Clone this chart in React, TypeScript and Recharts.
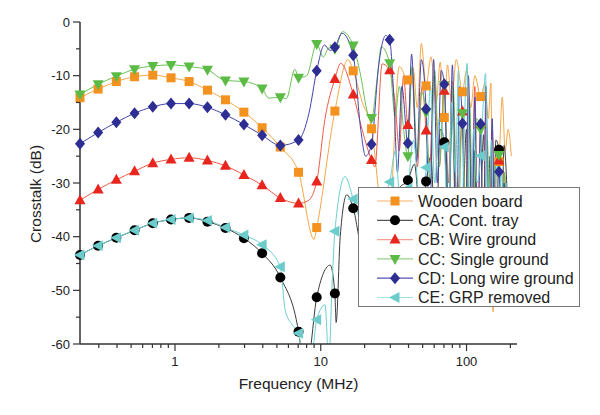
import { ComposedChart, Line, Scatter, XAxis, YAxis } from 'recharts'

type Pt = [number, number]
type MarkKind = 'square' | 'circle' | 'up' | 'down' | 'diamond' | 'left'

// frequencies (MHz) where the symbols sit, same grid for every curve
const markFreq = [
  0.223, 0.297, 0.396, 0.528, 0.704, 0.939, 1.25, 1.67, 2.22, 2.97, 3.96, 5.28, 7.04, 9.38, 12.5,
  16.7, 22.3, 29.7, 39.6, 52.8, 70.4, 93.8, 125, 167,
]

// crosstalk (dB) at the symbol frequencies
const woodenMarks = [
  -14.1, -12.5, -11.1, -10.2, -9.9, -10.4, -11.1, -12.7, -14.5, -16.8, -19.7, -23.3, -28.0, -38.3,
  -16.6, -9.1, -19.9, -38.0, -10.8, -11.9, -17.8, -13.0, -13.9, -26.0,
]
const trayMarks = [
  -43.4, -41.7, -40.2, -38.8, -37.5, -36.8, -36.5, -37.2, -38.4, -40.3, -43.1, -47.6, -57.7, -51.3,
  -50.6, -34.7, -40.0, -36.0, -29.5, -29.7, -22.4, -38.0, -36.0, -23.8,
]
const wireMarks = [
  -33.2, -31.2, -29.4, -27.8, -26.3, -25.6, -25.3, -25.8, -26.8, -28.5, -30.4, -32.8, -33.8, -29.7,
  -10.6, -13.5, -25.7, -9.0, -19.2, -20.2, -12.8, -16.7, -19.0, -25.8,
]
const singleMarks = [
  -13.5, -11.6, -10.1, -8.8, -8.2, -8.0, -8.3, -8.9, -10.9, -11.1, -12.4, -14.0, -10.4, -4.1, -5.0,
  -4.4, -17.9, -7.7, -25.0, -16.8, -11.8, -17.0, -20.0, -24.8,
]
const longWireMarks = [
  -22.7, -20.6, -18.7, -17.0, -15.8, -15.2, -15.2, -15.9, -17.3, -19.1, -21.1, -23.0, -22.0, -9.1,
  -4.7, -6.2, -22.8, -3.3, -22.6, -16.2, -11.6, -18.9, -19.0, -27.9,
]
const grpMarks = [
  -43.4, -41.7, -40.2, -38.8, -37.5, -36.8, -36.5, -37.0, -38.3, -39.7, -41.5, -45.6, -58.0, -55.5,
  -39.0, -33.0, -40.0, -29.8, -31.0, -27.1, -23.3, -35.0, -24.9, -32.0,
]

// extra peaks and dips of each trace between the symbols, [MHz, dB]
const woodenWave: Pt[] = [
  [9.0, -40.5], [15.4, -7.0], [19.3, -15.0], [25.0, -32.0], [27.4, -44.0], [34.6, -8.3],
  [43.0, -8.5], [46.0, -16.0], [49.0, -4.0], [57.0, -6.5], [62.0, -15.0], [66.0, -7.5],
  [74.0, -8.0], [79.0, -15.0], [85.0, -7.0], [100, -9.0], [107, -16.0], [114, -10.0],
  [134, -11.5], [141, -18.0], [147, -11.4], [152, -54.0], [159, -30.0], [176, -14.0],
  [184, -24.0], [193, -20.0], [203, -25.0],
]
const trayWave: Pt[] = [
  [7.5, -63], [8.0, -66], [8.5, -61], [11.6, -45.3], [12.75, -56], [13.6, -40], [15.1, -32.2],
  [19.3, -42], [25.5, -32], [34.5, -31], [44.0, -26.5], [48.0, -36], [57.0, -25], [61.5, -44],
  [66.0, -20], [75.0, -36], [80.0, -17], [86.0, -50], [100, -20], [106, -50], [113, -24],
  [119, -48], [131, -21], [138, -50], [145, -25], [152, -48], [159, -22], [174, -40], [181, -23],
  [190, -32],
]
const wireWave: Pt[] = [
  [8.2, -33.3], [10.7, -18], [13.7, -7.7], [19.2, -20], [23.5, -27], [26.4, -7.8], [32.6, -16],
  [34.6, -24], [37, -10], [42, -9], [46, -27], [49.6, -12], [55.5, -28], [60, -10], [65, -27],
  [75, -30], [80, -11], [86, -35], [98, -40], [103, -14], [109, -33], [114, -12], [119, -38],
  [130, -42], [136, -16], [143, -45], [150, -20], [157, -40], [174, -45], [181, -28], [188, -40],
]
const singleWave: Pt[] = [
  [4.4, -14.2], [5.8, -14.3], [6.65, -8.8], [8.0, -10.0], [10.4, -6.5], [11.4, -4.8], [14.1, -1.8],
  [18.8, -10], [21.0, -17], [24.5, -10], [26.0, -4.6], [32.4, -17.6], [34.6, -12], [37, -20],
  [42.3, -8.3], [46, -25], [49, -13], [56.5, -30], [60.5, -9], [65, -27], [75.5, -35], [81, -12],
  [87, -40], [99, -45], [105, -15], [111, -40], [117, -18], [131, -48], [139, -22], [146, -45],
  [154, -28], [174, -42], [182, -28], [189, -38],
]
const longWireWave: Pt[] = [
  [8.3, -17], [10.6, -4.3], [11.6, -5.3], [14.0, -2.1], [18.8, -20], [20.3, -25], [25, -8],
  [27.9, -2.5], [31.7, -14], [33.6, -28], [36, -12], [42, -6], [45.5, -26], [49, -7], [55.8, -40],
  [59.5, -7], [63, -30], [67, -9], [75.5, -38], [80, -8], [85, -42], [89.5, -12], [98, -45],
  [103, -10], [109, -40], [114, -14], [119, -45], [130, -48], [136, -12], [143, -50], [150, -18],
  [157, -45], [174, -50], [181, -30], [189, -45],
]
const grpWave: Pt[] = [
  [5.7, -53.7], [6.4, -56.5], [7.7, -64], [8.6, -63], [10.7, -52.7], [11.35, -63], [12.0, -48],
  [14.7, -28.8], [19.3, -38], [26, -33], [32.6, -24], [35.5, -36], [43.2, -22], [48, -34],
  [56.6, -12], [60.5, -30], [65, -18], [75, -40], [79, -15], [84, -28], [88, -9], [91, -40],
  [97, -18], [101, -7.7], [106, -40], [112, -20], [118, -30], [131, -14], [135, -9.6], [141, -40],
  [148, -22], [155, -45], [161, -25], [174, -28], [181, -45], [189, -30],
]

const seriesNames = [
  'Wooden board',
  'CA: Cont. tray',
  'CB: Wire ground',
  'CC: Single ground',
  'CD: Long wire ground',
  'CE: GRP removed',
]

const xTicks = [
  0.3, 0.4, 0.5, 0.6, 0.7, 0.8, 0.9, 1, 2, 3, 4, 5, 6, 7, 8, 9, 10, 20, 30, 40, 50, 60, 70, 80, 90,
  100, 200,
]
const xMajor = [1, 10, 100]
const yTicks = [-60, -55, -50, -45, -40, -35, -30, -25, -20, -15, -10, -5, 0]

const FONT = '"Liberation Sans", Arial, Helvetica, sans-serif'
const AXIS = '#333'

interface Series {
  name: string
  marks: number[]
  wave: Pt[]
  line: string
  fill: string
  legendLine: string
  kind: MarkKind
}

const series: Series[] = [
  { name: seriesNames[0], marks: woodenMarks, wave: woodenWave, line: '#f6a647', fill: '#f3921f', legendLine: '#f7b269', kind: 'square' },
  { name: seriesNames[1], marks: trayMarks, wave: trayWave, line: '#3a3a3a', fill: '#000', legendLine: '#555', kind: 'circle' },
  { name: seriesNames[2], marks: wireMarks, wave: wireWave, line: '#ef5a44', fill: '#e8261d', legendLine: '#f4a191', kind: 'up' },
  { name: seriesNames[3], marks: singleMarks, wave: singleWave, line: '#67c255', fill: '#5cbb45', legendLine: '#94d487', kind: 'down' },
  { name: seriesNames[4], marks: longWireMarks, wave: longWireWave, line: '#4444ad', fill: '#2d2d92', legendLine: '#5555b3', kind: 'diamond' },
  { name: seriesNames[5], marks: grpMarks, wave: grpWave, line: '#6ccfcf', fill: '#6ccccc', legendLine: '#a4e2e2', kind: 'left' },
]

function buildLine(marks: number[], wave: Pt[]) {
  const pts = markFreq
    .map((f, i) => ({ f, db: marks[i] }))
    .concat(wave.map(([f, db]) => ({ f, db })))
  return pts.sort((a, b) => a.f - b.f)
}

function buildMarks(marks: number[]) {
  return markFreq.map((f, i) => ({ f, db: marks[i] }))
}

function Marker({ kind, cx, cy, fill }: { kind: MarkKind; cx: number; cy: number; fill: string }) {
  switch (kind) {
    case 'square':
      return <rect x={cx - 4.5} y={cy - 4.5} width={9} height={9} fill={fill} />
    case 'circle':
      return <circle cx={cx} cy={cy} r={5} fill={fill} />
    case 'up':
      return <polygon points={`${cx},${cy - 6} ${cx + 5.5},${cy + 4} ${cx - 5.5},${cy + 4}`} fill={fill} />
    case 'down':
      return <polygon points={`${cx},${cy + 6} ${cx + 5.5},${cy - 4} ${cx - 5.5},${cy - 4}`} fill={fill} />
    case 'diamond':
      return <polygon points={`${cx},${cy - 6} ${cx + 5},${cy} ${cx},${cy + 6} ${cx - 5},${cy}`} fill={fill} />
    default:
      return <polygon points={`${cx - 6},${cy} ${cx + 4.5},${cy - 5.5} ${cx + 4.5},${cy + 5.5}`} fill={fill} />
  }
}

function XTick(props: any) {
  const { x, y, payload } = props
  const v = payload.value
  const major = xMajor.includes(v)
  return (
    <g>
      <line x1={x} x2={x} y1={y} y2={y + (major ? 7 : 4)} stroke={AXIS} strokeWidth={1.2} />
      {major && (
        <text x={x} y={y + 22} textAnchor="middle" fontSize={13} fill="#222" fontFamily={FONT}>
          {v}
        </text>
      )}
    </g>
  )
}

function YTick(props: any) {
  const { x, y, payload } = props
  const v = payload.value
  const major = v % 10 === 0
  return (
    <g>
      <line x1={x} x2={x - (major ? 7 : 4)} y1={y} y2={y} stroke={AXIS} strokeWidth={1.2} />
      {major && (
        <text x={x - 10} y={y + 4.6} textAnchor="end" fontSize={13} fill="#222" fontFamily={FONT}>
          {v}
        </text>
      )}
    </g>
  )
}

function LegendBox() {
  return (
    <div
      style={{
        position: 'absolute',
        left: 358,
        top: 187,
        width: 222,
        height: 120,
        boxSizing: 'border-box',
        border: '1px solid #777',
        background: '#fff',
      }}
    >
      <svg width={220} height={118}>
        {series.map((s, i) => {
          const cy = 13 + i * 19.3
          return (
            <g key={s.name}>
              <line x1={18} x2={54} y1={cy} y2={cy} stroke={s.legendLine} strokeWidth={1.2} />
              <Marker kind={s.kind} cx={36} cy={cy} fill={s.fill} />
              <text x={59} y={cy + 5.7} fontSize={16} fill="#222" fontFamily={FONT}>
                {s.name}
              </text>
            </g>
          )
        })}
      </svg>
    </div>
  )
}

export default function App() {
  return (
    <div style={{ position: 'absolute', left: 0, top: 0, width: 600, height: 415, background: '#fff' }}>
      <ComposedChart width={600} height={415} margin={{ top: 22, right: 83, bottom: 41, left: 20 }}>
        <XAxis
          dataKey="f"
          type="number"
          scale="log"
          domain={[0.223, 222]}
          ticks={xTicks}
          interval={0}
          tickSize={0}
          tickMargin={0}
          tickLine={false}
          tick={XTick}
          axisLine={{ stroke: AXIS, strokeWidth: 1.5 }}
          height={30}
          label={{
            value: 'Frequency (MHz)',
            position: 'bottom',
            offset: 4,
            fontSize: 15.5,
            fill: '#222',
            fontFamily: FONT,
          }}
        />
        <YAxis
          yAxisId="main"
          type="number"
          domain={[-60, 0]}
          allowDataOverflow
          ticks={yTicks}
          interval={0}
          tickSize={0}
          tickMargin={0}
          tickLine={false}
          tick={YTick}
          axisLine={{ stroke: AXIS, strokeWidth: 1.5 }}
          width={60}
          label={{
            value: 'Crosstalk (dB)',
            angle: -90,
            position: 'insideLeft',
            offset: 15,
            dy: 11,
            fontSize: 15.5,
            fill: '#222',
            fontFamily: FONT,
            style: { textAnchor: 'middle' },
          }}
        />
        <YAxis yAxisId="sym" type="number" domain={[-60, 0]} hide />
        {series.flatMap((s) => [
          <Line
            key={`${s.name}-line`}
            yAxisId="main"
            data={buildLine(s.marks, s.wave)}
            dataKey="db"
            type="monotone"
            stroke={s.line}
            strokeWidth={1}
            dot={false}
            activeDot={false}
            isAnimationActive={false}
          />,
          <Scatter
            key={`${s.name}-sym`}
            yAxisId="sym"
            data={buildMarks(s.marks)}
            dataKey="db"
            isAnimationActive={false}
            shape={(p: any) => <Marker kind={s.kind} cx={p.cx} cy={p.cy} fill={s.fill} />}
          />,
        ])}
      </ComposedChart>
      <LegendBox />
    </div>
  )
}
